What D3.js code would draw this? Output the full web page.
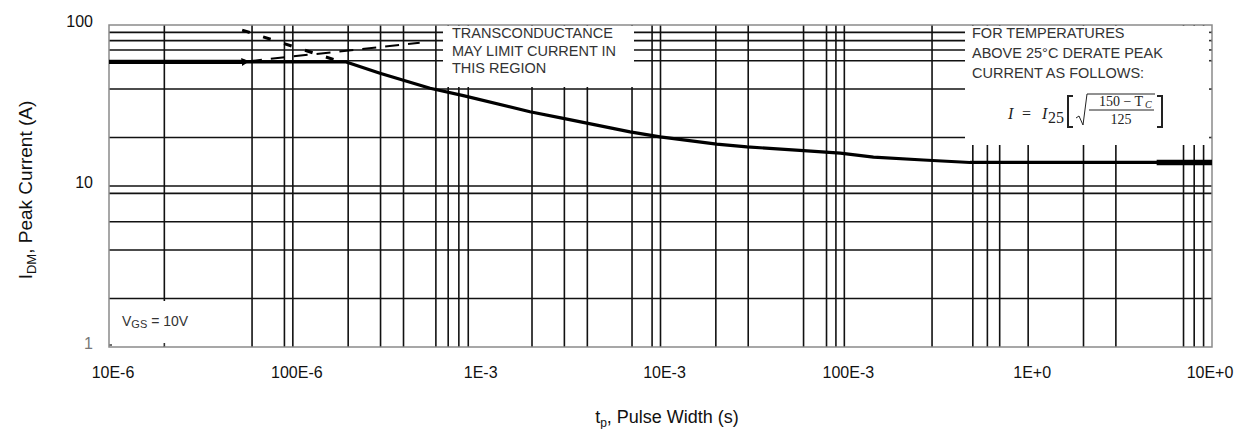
<!DOCTYPE html>
<html>
<head>
<meta charset="utf-8">
<script src="https://cdn.jsdelivr.net/npm/d3@7"></script>
<style>
  html, body { margin: 0; padding: 0; background: #fff; }
  svg { display: block; font-family: "Liberation Sans", Arial, sans-serif; }
</style>
</head>
<body>
<svg id="chart" width="1236" height="429"></svg>
<script>
// ---- data ----
const xTickValues = [1e-5, 1e-4, 1e-3, 1e-2, 1e-1, 1, 10];
const xTickLabels = ["10E-6", "100E-6", "1E-3", "10E-3", "100E-3", "1E+0", "10E+0"];
const yTickValues = [1, 10, 100];
const yTickLabels = ["1", "10", "100"];
const xGridValues = [2e-5, 6e-5, 9e-5, 1e-4, 2e-4, 3e-4, 4e-4, 6e-4, 7e-4, 8e-4, 9e-4,
  2e-3, 3e-3, 4e-3, 7e-3, 9e-3, 1e-2, 2e-2, 3e-2, 6e-2, 8e-2, 9e-2, 1e-1,
  3e-1, 5e-1, 6e-1, 7e-1, 1, 2, 3, 7, 8, 9];
const yGridValues = [2, 4, 6, 9, 10, 20, 40, 60, 70, 80, 90];
const pulseWidth = [1e-5, 1.95e-4, 2.98e-4, 5.58e-4, 8.46e-4, 1.95e-3, 2.96e-3, 4.5e-3, 6.83e-3,
  9.95e-3, 2.02e-2, 2.95e-2, 6e-2, 9.5e-2, 0.144, 0.269, 0.483, 10];
const peakCurrent = [59, 59, 50.1, 40.5, 36.4, 28.9, 26.3, 23.9, 21.7,
  20.2, 18.2, 17.5, 16.6, 16.0, 15.1, 14.5, 14.0, 14.0];
const thickLeftT = [1e-5, 5.5e-5];
const thickLeftI = [59, 59];
const thickRightT = [5, 10];
const thickRightI = [14, 14];
const transLimitT = [5.3e-5, 1.7e-4];
const transLimitI = [93, 60.6];
const leaderT = [5.7e-5, 4.9e-4];
const leaderI = [59.5, 77.6];

// ---- layout ----
const svg = d3.select("#chart");
const x = d3.scaleLog().domain([1e-5, 10]).range([109, 1212]);
const y = d3.scaleLog().domain([1, 100]).range([347, 25]);
const X0 = 109, X1 = 1212, Y0 = 25, Y1 = 347;

const defs = svg.append("defs");
defs.append("marker").attr("id", "arr").attr("viewBox", "0 0 10 10")
  .attr("refX", 2).attr("refY", 5).attr("markerWidth", 4).attr("markerHeight", 4)
  .attr("orient", "auto-start-reverse")
  .append("path").attr("d", "M10,0 L0,5 L10,10 z").attr("fill", "#000");

// grid
const g = svg.append("g");
g.selectAll("line.vg").data(xGridValues).join("line").attr("class", "vg")
  .attr("x1", d => x(d)).attr("x2", d => x(d)).attr("y1", Y0).attr("y2", Y1)
  .attr("stroke", "#111").attr("stroke-width", 1.6);
g.selectAll("line.hg").data(yGridValues).join("line").attr("class", "hg")
  .attr("x1", X0).attr("x2", X1).attr("y1", d => y(d)).attr("y2", d => y(d))
  .attr("stroke", "#111").attr("stroke-width", 1.6);

// white boxes that hide grid behind annotations
const boxes = [
  {x0: 443, x1: 634, y0: 26, y1: 87},
  {x0: 965, x1: 1211, y0: 26, y1: 145},
  {x0: 110, x1: 245, y0: 301, y1: 346}
];
g.selectAll("rect.box").data(boxes).join("rect").attr("class", "box")
  .attr("x", d => d.x0).attr("y", d => d.y0)
  .attr("width", d => d.x1 - d.x0).attr("height", d => d.y1 - d.y0)
  .attr("fill", "#fff");

// small ticks inside boxes
g.selectAll("line.rt").data(yGridValues.filter(v => v >= 20)).join("line").attr("class", "rt")
  .attr("x1", X1 - 3).attr("x2", X1).attr("y1", d => y(d)).attr("y2", d => y(d))
  .attr("stroke", "#333").attr("stroke-width", 1.6);
g.append("line").attr("x1", x(2e-5)).attr("x2", x(2e-5)).attr("y1", Y1 - 4).attr("y2", Y1)
  .attr("stroke", "#333").attr("stroke-width", 1.6);
g.append("line").attr("x1", X0).attr("x2", X0 + 3).attr("y1", Y1 - 2).attr("y2", Y1 - 2)
  .attr("stroke", "#333").attr("stroke-width", 1.4);

// frame
svg.append("rect").attr("x", X0).attr("y", Y0).attr("width", X1 - X0).attr("height", Y1 - Y0)
  .attr("fill", "none").attr("stroke", "#8a8a8a").attr("stroke-width", 1.5);

// curves
const line = d3.line().x(d => x(d[0])).y(d => y(d[1]));
svg.append("path").datum(d3.zip(pulseWidth, peakCurrent)).attr("d", line)
  .attr("fill", "none").attr("stroke", "#000").attr("stroke-width", 3.2).attr("stroke-linejoin", "round");
svg.append("path").datum(d3.zip(thickLeftT, thickLeftI)).attr("d", line)
  .attr("fill", "none").attr("stroke", "#000").attr("stroke-width", 4.2);
svg.append("path").datum(d3.zip(thickRightT, thickRightI)).attr("d", line)
  .attr("fill", "none").attr("stroke", "#000").attr("stroke-width", 5.5);
svg.append("path").datum(d3.zip(transLimitT, transLimitI)).attr("d", line)
  .attr("fill", "none").attr("stroke", "#000").attr("stroke-width", 3).attr("stroke-dasharray", "8,14");
svg.append("path").datum(d3.zip(leaderT, leaderI)).attr("d", line)
  .attr("fill", "none").attr("stroke", "#000").attr("stroke-width", 2).attr("stroke-dasharray", "14,9")
  .attr("marker-start", "url(#arr)");

// tick labels
svg.selectAll("text.xt").data(xTickValues).join("text").attr("class", "xt")
  .attr("x", (d, i) => Math.min(x(d) + 4, 1210)).attr("y", 378)
  .attr("text-anchor", "middle").attr("font-size", 16).attr("fill", "#111")
  .text((d, i) => xTickLabels[i]);
svg.selectAll("text.yt").data(yTickValues).join("text").attr("class", "yt")
  .attr("x", 93).attr("y", d => y(d) + 2)
  .attr("text-anchor", "end").attr("font-size", 16)
  .attr("fill", (d, i) => i === 0 ? "#777" : "#111")
  .text((d, i) => yTickLabels[i]);

// axis titles
const xt = svg.append("text").attr("x", 667).attr("y", 423).attr("text-anchor", "middle")
  .attr("font-size", 18).attr("fill", "#111");
xt.append("tspan").text("t");
xt.append("tspan").attr("font-size", 12).attr("dy", 4).text("p");
xt.append("tspan").attr("dy", -4).text(", Pulse Width (s)");

const yt = svg.append("text").attr("transform", "translate(32,190) rotate(-90)")
  .attr("text-anchor", "middle").attr("font-size", 19).attr("fill", "#111");
yt.append("tspan").text("I");
yt.append("tspan").attr("font-size", 13).attr("dy", 4).text("DM");
yt.append("tspan").attr("dy", -4).text(", Peak Current (A)");

// annotations
const ann1 = ["TRANSCONDUCTANCE", "MAY LIMIT CURRENT IN", "THIS REGION"];
svg.selectAll("text.a1").data(ann1).join("text").attr("class", "a1")
  .attr("x", 452).attr("y", (d, i) => 38 + i * 17.5).attr("font-size", 14.5).attr("fill", "#333")
  .text(d => d);
const ann2 = ["FOR TEMPERATURES", "ABOVE 25\u00B0C DERATE PEAK", "CURRENT AS FOLLOWS:"];
svg.selectAll("text.a2").data(ann2).join("text").attr("class", "a2")
  .attr("x", 972).attr("y", (d, i) => 38 + i * 20).attr("font-size", 14.5).attr("fill", "#333")
  .text(d => d);

// formula
const f = svg.append("g").attr("font-family", "'Liberation Serif', 'Times New Roman', serif").attr("fill", "#222");
f.append("text").attr("x", 1008).attr("y", 119).attr("font-size", 16).attr("font-style", "italic").text("I");
f.append("text").attr("x", 1022).attr("y", 119).attr("font-size", 16).text("=");
f.append("text").attr("x", 1042).attr("y", 119).attr("font-size", 16).attr("font-style", "italic").text("I");
f.append("text").attr("x", 1048).attr("y", 123).attr("font-size", 16).text("25");
f.append("path").attr("d", "M1073,96 L1068,96 L1068,127 L1073,127").attr("fill", "none").attr("stroke", "#222").attr("stroke-width", 2);
f.append("path").attr("d", "M1157,96 L1162,96 L1162,127 L1157,127").attr("fill", "none").attr("stroke", "#222").attr("stroke-width", 2);
f.append("path").attr("d", "M1076,118 L1079,116 L1083,125 L1087,94 L1155,94").attr("fill", "none").attr("stroke", "#222").attr("stroke-width", 1);
f.append("line").attr("x1", 1089).attr("x2", 1154).attr("y1", 110).attr("y2", 110).attr("stroke", "#222").attr("stroke-width", 1);
f.append("text").attr("x", 1121).attr("y", 106).attr("font-size", 14).attr("text-anchor", "middle").text("150 \u2212 T");
f.append("text").attr("x", 1145).attr("y", 108).attr("font-size", 10).attr("font-style", "italic").text("C");
f.append("text").attr("x", 1121).attr("y", 124).attr("font-size", 14).attr("text-anchor", "middle").text("125");

// Vgs
const vg = svg.append("text").attr("x", 122).attr("y", 326).attr("font-size", 14).attr("fill", "#333");
vg.append("tspan").text("V");
vg.append("tspan").attr("font-size", 11).attr("dy", 2).text("GS");
vg.append("tspan").attr("dy", -2).text(" = 10V");
</script>
</body>
</html>
